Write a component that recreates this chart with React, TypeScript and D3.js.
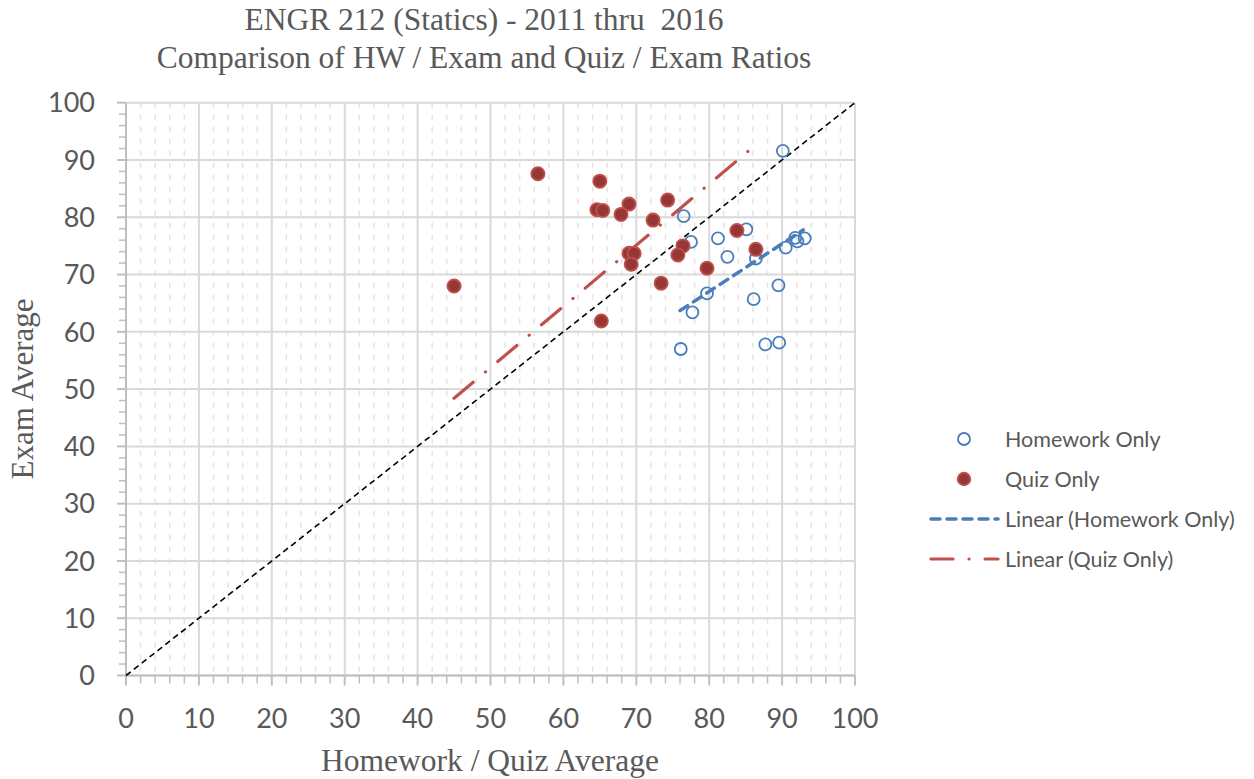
import React from "react";
import * as d3 from "d3";

const hwX = [90.1, 76.5, 77.5, 81.2, 85.1, 82.5, 86.4, 90.5, 91.8, 92.1, 93.1, 79.7, 77.7, 86.1, 89.5, 76.1, 87.7, 89.6];
const hwY = [91.6, 80.2, 75.7, 76.3, 77.9, 73.1, 72.8, 74.7, 76.4, 75.8, 76.3, 66.7, 63.4, 65.7, 68.1, 57.0, 57.8, 58.1];
const qzX = [45.0, 56.5, 65.0, 64.6, 65.4, 69.0, 67.9, 72.3, 74.3, 83.8, 86.4, 79.7, 73.4, 76.4, 75.7, 69.0, 69.7, 69.3, 65.2];
const qzY = [68.0, 87.6, 86.3, 81.3, 81.2, 82.3, 80.5, 79.5, 83.0, 77.7, 74.4, 71.1, 68.5, 75.0, 73.4, 73.7, 73.7, 71.8, 61.9];
const hwTrendX = [76.0, 92.9];
const hwTrendY = [63.7, 77.8];
const qzTrendX = [45.0, 85.7];
const qzTrendY = [48.4, 91.9];
const refX = [0, 100];
const refY = [0, 100];
const majorTicks = [0, 10, 20, 30, 40, 50, 60, 70, 80, 90, 100];
const minorTicks = d3.range(0, 101, 2).filter((v) => v % 10 !== 0);
const titleLines = ["ENGR 212 (Statics) - 2011 thru  2016", "Comparison of HW / Exam and Quiz / Exam Ratios"];
const legendLabels = ["Homework Only", "Quiz Only", "Linear (Homework Only)", "Linear (Quiz Only)"];

const W = 1254, H = 779;
const L = 126, R = 855, T = 102.7, B = 675.5;
const BLUE = "#4a7ebb";
const RED_FILL = "#953735";
const RED_STROKE = "#c0504d";
const TXT = "#595959";
const SANS = "Lato, 'Open Sans', sans-serif";
const SERIF = "'Liberation Serif', 'DejaVu Serif', serif";
const RED_DASH = "25,16,0.1,16";
const BLUE_DASH = "9,7";

export default function App() {
  const x = d3.scaleLinear().domain([0, 100]).range([L, R]);
  const y = d3.scaleLinear().domain([0, 100]).range([B, T]);
  const line = d3.line<[number, number]>().x((d) => x(d[0])).y((d) => y(d[1]));
  const pairs = (xs: number[], ys: number[]) => xs.map((v, i) => [v, ys[i]] as [number, number]);

  return (
    <svg width={W} height={H} style={{ position: "absolute", left: 0, top: 0, background: "#fff" }}>
      {/* minor vertical dashed grid */}
      {minorTicks.map((v) => (
        <line key={"mv" + v} x1={x(v)} x2={x(v)} y1={T} y2={B} stroke="#e3e3e3" strokeWidth={1.5} strokeDasharray="5,7" />
      ))}
      {/* major grid */}
      {majorTicks.map((v) => (
        <line key={"gv" + v} x1={x(v)} x2={x(v)} y1={T} y2={B} stroke="#d9d9d9" strokeWidth={2} />
      ))}
      {majorTicks.map((v) => (
        <line key={"gh" + v} x1={L} x2={R} y1={y(v)} y2={y(v)} stroke="#d9d9d9" strokeWidth={2} />
      ))}
      {/* axes */}
      <line x1={L} x2={L} y1={T} y2={B} stroke="#bfbfbf" strokeWidth={2} />
      <line x1={L} x2={R} y1={B} y2={B} stroke="#bfbfbf" strokeWidth={2} />
      {majorTicks.map((v) => (
        <line key={"ty" + v} x1={L - 9} x2={L} y1={y(v)} y2={y(v)} stroke="#bfbfbf" strokeWidth={2} />
      ))}
      {minorTicks.map((v) => (
        <line key={"mty" + v} x1={L - 7} x2={L} y1={y(v)} y2={y(v)} stroke="#bfbfbf" strokeWidth={1.5} />
      ))}
      {majorTicks.map((v) => (
        <line key={"tx" + v} x1={x(v)} x2={x(v)} y1={B} y2={B + 10} stroke="#bfbfbf" strokeWidth={2} />
      ))}
      {minorTicks.map((v) => (
        <line key={"mtx" + v} x1={x(v)} x2={x(v)} y1={B} y2={B + 8} stroke="#bfbfbf" strokeWidth={1.5} />
      ))}
      {/* tick labels */}
      {majorTicks.map((v) => (
        <text key={"ly" + v} x={L - 31} y={y(v)} dy="0.36em" textAnchor="end" fontFamily={SANS} fontSize={27} fill={TXT}>{v}</text>
      ))}
      {majorTicks.map((v) => (
        <text key={"lx" + v} x={x(v)} y={B + 52} textAnchor="middle" fontFamily={SANS} fontSize={27} fill={TXT}>{v}</text>
      ))}
      {/* reference 1:1 line */}
      <path d={line(pairs(refX, refY)) || ""} stroke="#000" strokeWidth={1.6} strokeDasharray="6,4" fill="none" />
      {/* trend lines */}
      <path d={line(pairs(qzTrendX, qzTrendY)) || ""} stroke={RED_STROKE} strokeWidth={3.2} strokeDasharray={RED_DASH} strokeLinecap="round" fill="none" />
      <path d={line(pairs(hwTrendX, hwTrendY)) || ""} stroke={BLUE} strokeWidth={3.5} strokeDasharray={BLUE_DASH} strokeLinecap="round" fill="none" />
      {/* points */}
      {hwX.map((v, i) => (
        <circle key={"hw" + i} cx={x(v)} cy={y(hwY[i])} r={6} fill="none" stroke={BLUE} strokeWidth={1.8} />
      ))}
      {qzX.map((v, i) => (
        <circle key={"qz" + i} cx={x(v)} cy={y(qzY[i])} r={6.6} fill={RED_FILL} stroke={RED_STROKE} strokeWidth={1.8} />
      ))}
      {/* title */}
      {titleLines.map((t, i) => (
        <text key={"t" + i} x={484} y={30 + i * 38} textAnchor="middle" fontFamily={SERIF} fontSize={31.5} fill={TXT} style={{ whiteSpace: "pre" }}>{t}</text>
      ))}
      {/* axis titles */}
      <text x={490} y={771} textAnchor="middle" fontFamily={SERIF} fontSize={31.5} fill={TXT}>Homework / Quiz Average</text>
      <text transform={`translate(33,${389}) rotate(-90)`} textAnchor="middle" fontFamily={SERIF} fontSize={31} fill={TXT}>Exam Average</text>
      {/* legend */}
      <g fontFamily={SANS} fontSize={21.5} fill={TXT}>
        <circle cx={964} cy={439} r={6} fill="none" stroke={BLUE} strokeWidth={1.8} />
        <text x={1005} y={439} dy="0.35em">{legendLabels[0]}</text>
        <circle cx={964} cy={479} r={6.3} fill={RED_FILL} stroke={RED_STROKE} strokeWidth={1.8} />
        <text x={1005} y={479} dy="0.35em">{legendLabels[1]}</text>
        <line x1={931} x2={998} y1={519} y2={519} stroke={BLUE} strokeWidth={3.5} strokeDasharray={BLUE_DASH} strokeLinecap="round" />
        <text x={1005} y={519} dy="0.35em">{legendLabels[2]}</text>
        <line x1={931} x2={998} y1={559} y2={559} stroke={RED_STROKE} strokeWidth={3.2} strokeDasharray="22,16,0.1,16" strokeLinecap="round" />
        <text x={1005} y={559} dy="0.35em">{legendLabels[3]}</text>
      </g>
    </svg>
  );
}
